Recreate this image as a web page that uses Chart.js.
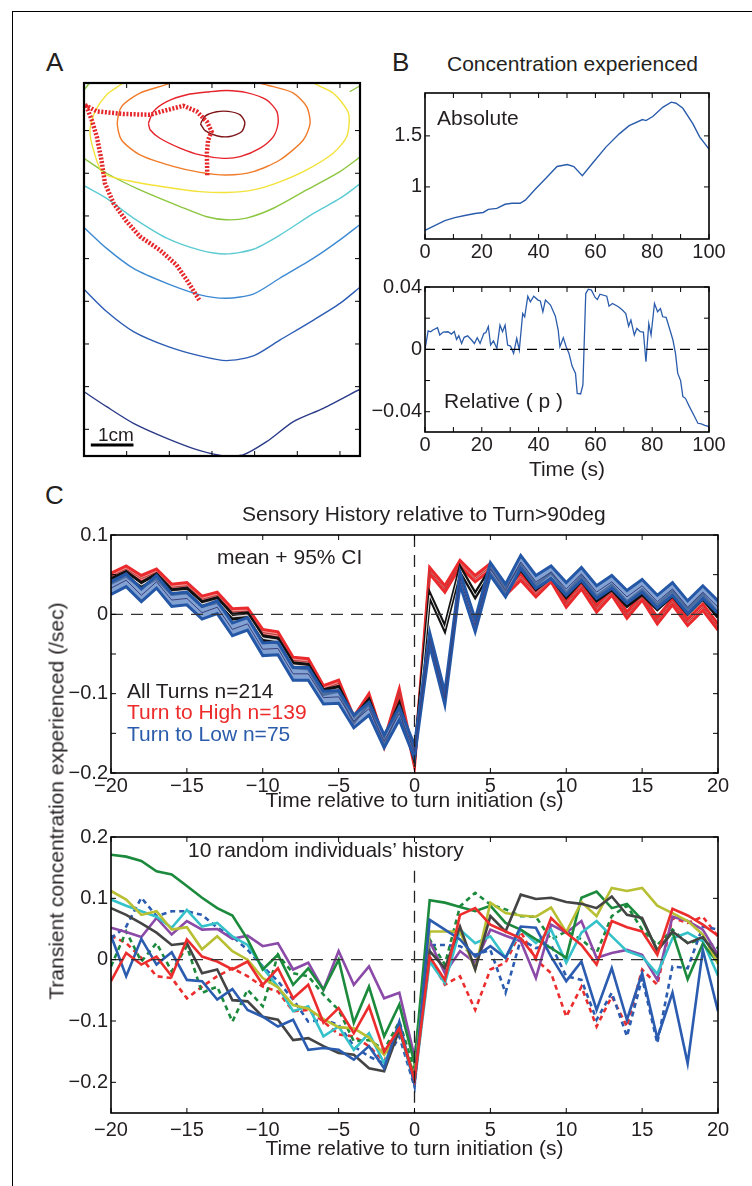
<!DOCTYPE html>
<html>
<head>
<meta charset="utf-8">
<title>Concentration experienced and sensory history</title>
<script src="https://cdn.jsdelivr.net/npm/chart.js@4.4.1/dist/chart.umd.min.js"></script>
<style>
  body { margin: 0; width: 752px; height: 1186px; position: relative; overflow: hidden; background: #fff;
         font-family: "Liberation Sans", Arial, sans-serif; color: #231f20; }
  #frame { position: absolute; left: 12px; top: 11px; width: 800px; height: 1250px;
           border-left: 1px solid #000; border-top: 1px solid #000; }
  canvas { position: absolute; }
  .txt { position: absolute; white-space: nowrap; font-size: 21px; line-height: 21px; z-index: 2; }
  .letter { font-size: 26px; line-height: 26px; }
</style>
</head>
<body>
<div id="frame"></div>
<canvas id="mapChart"></canvas>
<canvas id="absChart"></canvas>
<canvas id="relChart"></canvas>
<canvas id="meanChart"></canvas>
<canvas id="indivChart"></canvas>

<div class="txt letter" style="left:46px;top:49px">A</div>
<div class="txt letter" style="left:392px;top:49px">B</div>
<div class="txt letter" style="left:45px;top:482px">C</div>
<div class="txt" style="left:447px;top:53px">Concentration experienced</div>
<div class="txt" style="left:437px;top:107px">Absolute</div>
<div class="txt" style="left:444px;top:390px">Relative ( p )</div>
<div class="txt" style="left:98px;top:425px;font-size:19px;line-height:19px">1cm</div>
<div class="txt" style="left:242px;top:503px">Sensory History relative to Turn&gt;90deg</div>
<div class="txt" style="left:217px;top:546px">mean + 95% CI</div>
<div class="txt" style="left:127px;top:680px;color:#231f20">All Turns n=214</div>
<div class="txt" style="left:127px;top:701px;color:#ec2a2a">Turn to High n=139</div>
<div class="txt" style="left:127px;top:723px;color:#2a5cab">Turn to Low n=75</div>
<div class="txt" style="left:188px;top:839px">10 random individuals’ history</div>
<div class="txt" style="left:56px;top:801px;transform:translate(-50%,-50%) rotate(-90deg)">Transient concentration experienced (/sec)</div>

<script>
// ---- panel A: contour levels (cm) and the worm track ----
var levelDarkRed = [[2.73,7.16],[2.84,7.34],[3.11,7.44],[3.38,7.45],[3.66,7.37],[3.77,7.19],[3.70,6.98],[3.42,6.86],[3.11,6.88],[2.84,7.00],[2.73,7.16]];
var levelRed = [[1.51,7.17],[1.63,7.45],[1.94,7.68],[2.41,7.84],[2.95,7.91],[3.34,7.94],[3.81,7.89],[4.28,7.72],[4.52,7.45],[4.55,7.17],[4.44,6.86],[4.13,6.59],[3.66,6.39],[3.27,6.35],[2.72,6.43],[2.25,6.59],[1.78,6.82],[1.55,7.02],[1.51,7.17]];
var levelOrange = [[2.25,8.27],[2.02,8.11],[1.31,7.88],[0.88,7.56],[0.78,7.17],[0.88,6.78],[1.31,6.43],[2.09,6.16],[2.72,6.02],[3.34,5.96],[3.97,6.04],[4.59,6.31],[5.14,6.78],[5.30,7.17],[5.22,7.56],[4.91,7.88],[4.44,8.03],[4.13,8.11],[3.89,8.27]];
var levelYellow = [[1.08,8.27],[0.88,8.09],[0.53,7.84],[0.26,7.45],[0.14,7.02],[0.22,6.55],[0.45,6.00],[1.16,5.80],[2.09,5.65],[2.72,5.57],[3.34,5.55],[3.97,5.61],[4.59,5.80],[5.22,6.08],[5.84,6.47],[6.16,6.86],[6.20,7.41],[5.84,7.88],[5.38,8.11],[5.14,8.27]];
var levelGreen = [[0,6.35],[0.53,6.00],[1.31,5.61],[2.25,5.22],[2.88,4.98],[3.34,4.91],[3.81,4.95],[4.44,5.18],[5.22,5.61],[6.00,6.04],[6.47,6.38]];
var levelGreenCornerLeft = [[0,7.95],[0.14,8.13]];
var levelGreenCornerRight = [[6.23,7.91],[6.47,8.05]];
var levelCyan = [[0,5.71],[0.53,5.41],[1.16,4.95],[1.94,4.48],[2.72,4.20],[3.34,4.11],[3.97,4.22],[4.59,4.55],[5.38,5.06],[6.00,5.41],[6.47,5.75]];
var levelBlue = [[0,4.73],[0.53,4.24],[1.16,3.77],[1.94,3.42],[2.72,3.15],[3.34,3.07],[3.97,3.17],[4.59,3.54],[5.38,4.01],[6.00,4.44],[6.47,4.80]];
var levelDeepBlue = [[0,3.28],[0.53,2.76],[1.16,2.29],[1.94,1.95],[2.72,1.72],[3.34,1.61],[3.97,1.72],[4.59,2.09],[5.38,2.56],[6.00,2.95],[6.47,3.33]];
var levelNavy = [[0,0.88],[0.53,0.53],[1.16,0.14],[1.94,-0.21],[2.72,-0.50],[3.34,-0.63],[3.73,-0.60],[4.28,-0.29],[4.91,0.18],[5.61,0.49],[6.47,0.94]];
var wormTrack = [[2.70,3.03],[2.41,3.50],[2.17,3.85],[1.78,4.20],[1.31,4.52],[1.00,4.87],[0.69,5.30],[0.49,5.77],[0.41,6.31],[0.30,6.86],[0.18,7.25],[0.06,7.56],[0.02,7.60],[0.30,7.45],[0.92,7.39],[1.55,7.37],[1.94,7.48],[2.33,7.58],[2.64,7.45],[2.88,7.21],[2.99,6.98],[2.91,6.78],[2.88,6.47],[2.89,5.94]];
var scaleBar = [[0.16,-0.37],[1.16,-0.37]];
var mapTicksX = [1, 2, 3, 4, 5, 6];
var mapTicksY = [0, 1, 2, 3, 4, 5, 6, 7];

// ---- panel B: concentration along the track ----
var absTime = [0,3.4,7,10.5,14,17.6,20.5,22.3,25.3,28.2,30.6,33.5,35.3,38.9,42.4,46.5,50.1,52.4,55.4,58.9,63.7,68.4,71.9,76.6,77.8,80.2,83.7,86.7,88.4,90.8,94.3,96.7,100];
var absValue = [0.575,0.62,0.67,0.70,0.72,0.74,0.75,0.78,0.79,0.83,0.84,0.84,0.87,0.98,1.08,1.20,1.22,1.20,1.11,1.23,1.39,1.52,1.60,1.66,1.65,1.69,1.78,1.83,1.82,1.77,1.62,1.49,1.37];
var relTime = [0,1.1,2.0,2.8,4.4,5.2,6.4,8.1,9.3,10.3,11.1,11.9,12.9,13.8,15.0,16.4,17.4,18.4,19.4,20.7,21.4,22.3,23.1,24.1,25.3,26.4,27.3,28.2,29.1,30.1,31.2,32.3,33.2,34.4,35.1,36.2,37.1,38.3,39.8,40.6,41.5,42.4,44.2,45.9,46.9,47.5,48.7,49.7,50.7,51.8,53.0,53.6,54.8,55.6,56.6,57.5,58.6,59.9,60.7,61.6,64.0,64.8,66.0,68.1,69.5,70.7,71.7,72.5,73.7,74.6,75.8,76.9,77.8,78.8,79.6,80.8,81.9,82.9,83.7,84.9,86.1,87.3,88.2,89.0,90.0,90.8,91.7,93.1,94.9,96.1,97.3,98.5,100];
var relValue = [0,0.0119,0.0113,0.0124,0.0139,0.0092,0.0111,0.0113,0.0098,0.0115,0.0064,0.0087,0.0038,0.0077,0.0087,0.006,0.0038,0.0075,0.0038,0.0102,0.0107,0.0147,0.0028,0.0055,0.0006,0.0156,0.0113,0.0156,0.0028,0.0021,-0.0026,0.007,-0.0004,0.023,0.0209,0.0341,0.0305,0.0341,0.0316,0.0311,0.0241,0.0316,0.0284,0.0213,0.0124,0.0017,0.0075,0.0017,-0.0026,-0.0107,-0.0154,-0.0282,-0.0286,-0.0228,0.0358,0.0386,0.038,0.0333,0.032,0.0354,0.0341,0.0277,0.0294,0.0273,0.0252,0.023,0.0149,0.0188,0.0092,0.0134,0.0113,0.0111,-0.0079,0.0166,0.0092,0.0294,0.0241,0.0262,0.0209,0.0205,0.0134,0.006,-0.0026,-0.0154,-0.02,-0.0303,-0.0314,-0.0367,-0.0431,-0.0474,-0.0478,-0.0488,-0.0495];
var timeTicksB = [0, 10, 20, 30, 40, 50, 60, 70, 80, 90, 100];
var timeLabelsB = [0, 20, 40, 60, 80, 100];

// ---- panel C: mean sensory history around turns ----
var turnTime = [-20,-19,-18,-17,-16,-15,-14,-13,-12,-11,-10,-9,-8,-7,-6,-5,-4,-3,-2,-1,0,1,2,3,4,5,6,7,8,9,10,11,12,13,14,15,16,17,18,19,20];
var allMean = [0.042,0.051,0.037,0.048,0.028,0.030,0.013,0.018,-0.003,-0.001,-0.030,-0.033,-0.064,-0.066,-0.098,-0.094,-0.133,-0.110,-0.160,-0.115,-0.181,0.024,-0.018,0.057,0.024,0.055,0.030,0.059,0.034,0.049,0.024,0.045,0.020,0.034,0.013,0.028,0.009,0.026,0.003,0.022,-0.001];
var highMean = [0.048,0.057,0.045,0.053,0.034,0.036,0.019,0.024,0.003,0.004,-0.023,-0.026,-0.058,-0.060,-0.094,-0.087,-0.133,-0.104,-0.163,-0.098,-0.188,0.055,0.032,0.064,0.045,0.060,0.028,0.047,0.026,0.045,0.013,0.036,0.007,0.028,-0.001,0.022,-0.008,0.016,-0.010,0.009,-0.016];
var lowMean = [0.033,0.043,0.024,0.041,0.018,0.020,0.002,0.009,-0.019,-0.012,-0.044,-0.043,-0.075,-0.075,-0.105,-0.104,-0.135,-0.119,-0.160,-0.125,-0.173,-0.031,-0.106,0.045,-0.014,0.057,0.030,0.066,0.041,0.053,0.032,0.051,0.028,0.041,0.022,0.036,0.016,0.032,0.009,0.028,0.009];
var allCI = 0.003;
var highCI = 0.004;
var lowCI = 0.008;

// ---- panel C: ten individual histories ----
var greenSolid = [0.171,0.168,0.161,0.144,0.139,0.120,0.101,0.084,0.072,0.033,-0.016,0.008,-0.041,-0.014,-0.049,0.000,-0.103,-0.044,-0.125,-0.073,-0.169,0.097,0.093,0.086,0.079,0.088,0.060,0.049,0.033,0.019,0.003,0.101,0.111,0.084,0.091,0.065,0.016,0.045,-0.032,0.026,-0.005];
var oliveSolid = [0.112,0.098,0.073,0.079,0.049,0.053,0.017,0.038,0.014,0.000,-0.030,-0.045,-0.074,-0.080,-0.097,-0.110,-0.112,-0.127,-0.155,-0.114,-0.190,0.046,0.046,0.046,-0.016,0.093,0.076,0.072,0.070,0.085,0.045,0.094,0.071,0.117,0.112,0.117,0.088,0.076,0.063,0.041,-0.007];
var cyanSolid = [0.098,0.088,0.079,0.070,0.052,0.081,0.054,0.060,0.038,0.024,-0.013,-0.044,-0.084,-0.076,-0.125,-0.109,-0.147,-0.120,-0.169,-0.114,-0.201,-0.003,-0.038,0.049,0.027,0.038,0.003,0.049,0.027,0.049,-0.005,0.044,0.063,0.038,0.014,0.005,-0.023,0.035,0.044,0.030,-0.026];
var graySolid = [0.084,0.073,0.059,0.044,0.024,0.027,-0.022,-0.016,-0.066,-0.068,-0.093,-0.098,-0.131,-0.128,-0.141,-0.152,-0.155,-0.177,-0.182,-0.114,-0.193,0.014,-0.014,0.054,-0.016,0.071,0.046,0.106,0.099,0.101,0.094,0.091,0.084,0.103,0.073,0.068,0.014,0.046,0.027,0.037,0.003];
var purpleSolid = [0.052,0.045,0.037,0.068,0.041,0.063,0.049,0.050,0.034,0.039,0.022,0.027,-0.016,-0.005,-0.049,0.014,-0.041,-0.011,-0.063,-0.054,-0.158,0.030,-0.022,0.014,-0.005,0.049,0.039,0.030,-0.030,0.057,0.044,0.063,0.003,0.011,0.016,0.008,-0.033,0.070,0.063,0.049,0.008];
var redSolid = [-0.035,0.011,-0.008,0.005,-0.027,0.033,0.005,-0.003,-0.016,-0.003,-0.041,-0.014,-0.063,-0.041,-0.103,-0.079,-0.120,-0.076,-0.150,-0.112,-0.196,0.005,-0.033,0.073,0.084,0.057,0.046,0.035,0.003,0.068,0.044,0.024,-0.008,0.063,0.053,0.046,0.008,0.083,0.072,0.057,0.039];
var blueSolid = [0.039,-0.027,0.034,-0.008,0.012,-0.033,-0.035,-0.065,-0.048,-0.082,-0.093,-0.109,-0.098,-0.147,-0.144,-0.147,-0.163,-0.141,-0.177,-0.101,-0.204,0.065,0.049,0.033,0.005,0.022,0.003,0.054,0.052,0.005,-0.035,-0.003,-0.082,-0.014,-0.098,-0.022,-0.128,-0.054,-0.169,0.016,-0.084];
var blueDotted = [0.035,0.054,0.101,0.071,0.079,0.079,0.073,0.052,0.038,0.016,-0.011,-0.035,-0.065,-0.101,-0.098,-0.106,-0.141,-0.158,-0.169,-0.125,-0.207,0.024,0.024,0.022,0.008,0.016,-0.054,0.033,0.019,0.024,-0.027,-0.033,-0.098,-0.054,-0.125,-0.030,-0.136,-0.011,-0.014,0.054,0.049];
var greenDotted = [-0.011,0.046,-0.003,0.027,-0.019,0.022,-0.054,-0.044,-0.101,-0.049,-0.076,0.008,-0.022,-0.027,-0.057,-0.082,-0.133,-0.131,-0.147,-0.101,-0.180,0.033,-0.008,0.087,0.109,0.090,0.082,0.071,0.070,0.033,0.046,0.033,0.011,0.071,0.088,0.049,0.024,0.049,0.027,0.033,0.019];
var redDotted = [0.039,0.027,0.003,-0.027,-0.030,-0.063,-0.044,-0.027,-0.014,-0.027,-0.044,-0.052,-0.084,-0.082,-0.101,-0.122,-0.125,-0.141,-0.166,-0.109,-0.201,0.003,-0.041,-0.027,-0.082,-0.016,-0.005,0.046,0.000,-0.022,-0.093,-0.044,-0.109,-0.060,-0.109,-0.016,-0.041,0.068,0.060,0.070,0.038];
var turnTicks = [-20, -15, -10, -5, 0, 5, 10, 15, 20];

Chart.defaults.font.family = '"Liberation Sans", Arial, sans-serif';
Chart.defaults.font.size = 20;
Chart.defaults.color = '#231f20';
Chart.defaults.animation = false;
Chart.defaults.plugins.legend.display = false;
Chart.defaults.plugins.tooltip.enabled = false;

var DASH = [12, 8];

var minus = function minus(v) { return String(v).replace('-', '\u2212'); };

// box round the plot area plus inward ticks on all four sides, matlab style
var boxTicks = {
  id: 'boxTicks',
  afterDatasetsDraw: function(chart, args, opts) {
    var ctx = chart.ctx, a = chart.chartArea, sx = chart.scales.x, sy = chart.scales.y;
    var len = opts.len || 5;
    ctx.save();
    ctx.strokeStyle = '#000';
    ctx.lineWidth = 1;
    ctx.beginPath();
    sx.ticks.forEach(function(t) {
      var px = sx.getPixelForValue(t.value);
      ctx.moveTo(px, a.bottom); ctx.lineTo(px, a.bottom - len);
      ctx.moveTo(px, a.top); ctx.lineTo(px, a.top + len);
    });
    sy.ticks.forEach(function(t) {
      var py = sy.getPixelForValue(t.value);
      ctx.moveTo(a.left, py); ctx.lineTo(a.left + len, py);
      ctx.moveTo(a.right, py); ctx.lineTo(a.right - len, py);
    });
    ctx.stroke();
    ctx.lineWidth = opts.frame || 1.6;
    ctx.strokeRect(a.left, a.top, a.right - a.left, a.bottom - a.top);
    ctx.restore();
  }
};

var scaleFor = function scaleFor(dir, min, max, tickValues, labelValues, size, title, labelPad) {
  return {
    type: 'linear',
    position: dir === 'x' ? 'bottom' : 'left',
    min: min,
    max: max,
    grid: { display: false, drawTicks: false },
    border: { display: false },
    title: title ? { display: true, text: title, padding: 0, font: { size: 21 } } : { display: false },
    ticks: {
      display: labelValues.length > 0,
      padding: labelPad,
      autoSkip: false,
      maxRotation: 0,
      minRotation: 0,
      callback: function(value) { return labelValues.indexOf(value) >= 0 ? minus(value) : ''; }
    },
    afterBuildTicks: function(scale) {
      scale.ticks = tickValues.map(function(v) { return { value: v }; });
    },
    afterFit: function(scale) {
      if (dir === 'x') { scale.height = size; } else { scale.width = size; }
      scale.paddingLeft = 0; scale.paddingRight = 0; scale.paddingTop = 0; scale.paddingBottom = 0;
    }
  };
};

var series = function series(xs, ys, color, width, dash) {
  return {
    data: xs.map(function(x, i) { return { x: x, y: ys[i] }; }),
    borderColor: color, borderWidth: width, borderDash: dash || [],
    showLine: true, pointRadius: 0, fill: false, tension: 0
  };
};

var path = function path(points, color, width, dash) {
  return {
    data: points.map(function(p) { return { x: p[0], y: p[1] }; }),
    borderColor: color, borderWidth: width, borderDash: dash || [],
    showLine: true, pointRadius: 0, fill: false, tension: 0.25
  };
};

var place = function place(id, box) {
  var c = document.getElementById(id);
  var left = box.L - box.wy - box.pl, top = box.T - box.pt;
  c.style.left = left + 'px';
  c.style.top = top + 'px';
  c.width = box.R + box.pr - left;
  c.height = box.B + box.hx + box.pb - top;
  return c;
};

var build = function build(id, box, datasets, xScale, yScale) {
  return new Chart(place(id, box), {
    type: 'scatter',
    data: { datasets: datasets },
    options: {
      responsive: false,
      layout: { padding: { left: box.pl, top: box.pt, right: box.pr, bottom: box.pb } },
      elements: { point: { radius: 0 }, line: { borderCapStyle: 'butt' } },
      scales: { x: xScale, y: yScale },
      plugins: { boxTicks: { frame: box.frame } }
    },
    plugins: [boxTicks]
  });
};

// panel A
var track = path(wormTrack, '#e5262b', 4.5, [2, 1.6]);
track.tension = 0;
var bar = path(scaleBar, '#000', 3);
bar.tension = 0;
build('mapChart', { L: 84, T: 83, R: 360, B: 456, wy: 0, hx: 0, pl: 3, pt: 3, pr: 3, pb: 3, frame: 2.2 }, [
  bar,
  track,
  path(levelDarkRed, '#7d1418', 1.4),
  path(levelRed, '#e5232b', 1.4),
  path(levelOrange, '#f07c2a', 1.4),
  path(levelYellow, '#f3e23a', 1.4),
  path(levelGreen, '#8cc640', 1.4),
  path(levelGreenCornerLeft, '#8cc640', 1.4),
  path(levelGreenCornerRight, '#8cc640', 1.4),
  path(levelCyan, '#5ccbd2', 1.4),
  path(levelBlue, '#3d8ad3', 1.4),
  path(levelDeepBlue, '#2c5cb3', 1.4),
  path(levelNavy, '#2a3a88', 1.4)
], scaleFor('x', 0, 6.47, mapTicksX, [], 0), scaleFor('y', -0.625, 8.115, mapTicksY, [], 0));

// panel B, absolute
build('absChart', { L: 425, T: 93, R: 709, B: 239, wy: 45, hx: 30, pl: 0, pt: 6, pr: 22, pb: 0 }, [
  series(absTime, absValue, '#2a5cab', 1.4)
], scaleFor('x', 0, 100, timeTicksB, timeLabelsB, 30, null, 1),
   scaleFor('y', 0.49, 1.92, [1, 1.5], [1, 1.5], 45, null, 3));

// panel B, relative (first dataset is drawn on top)
build('relChart', { L: 425, T: 287, R: 709, B: 432, wy: 55, hx: 51, pl: 0, pt: 12, pr: 22, pb: 0 }, [
  series([0, 100], [0, 0], '#000', 1.3, [10, 7]),
  series(relTime, relValue, '#2a5cab', 1.3)
], scaleFor('x', 0, 100, timeTicksB, timeLabelsB, 51, 'Time (s)', 1),
   scaleFor('y', -0.053, 0.04, [-0.04, -0.02, 0, 0.02, 0.04], [-0.04, 0, 0.04], 55, null, 3));

// panel C, mean + CI bands
var band = function band(mean, ci, edge, fillColor, meanColor) {
  var upper = series(turnTime, mean.map(function(v) { return v + ci; }), edge, 3);
  var lower = series(turnTime, mean.map(function(v) { return v - ci; }), edge, 3);
  lower.fill = '-1';
  lower.backgroundColor = fillColor;
  return [series(turnTime, mean, meanColor, 1), upper, lower];
};
build('meanChart', { L: 111, T: 535, R: 718, B: 773, wy: 45, hx: 41, pl: 0, pt: 12, pr: 22, pb: 0 },
  [
    series([-20, 20], [0, 0], '#333', 1.3, DASH),
    series([0, 0], [0.1, -0.2], '#222', 1.3, DASH)
  ].concat(band(lowMean, lowCI, '#2557a7', 'rgba(96,136,200,0.78)', '#3a3f7a'))
   .concat(band(allMean, allCI, '#111111', 'rgba(150,150,150,0.85)', '#dddddd'))
   .concat(band(highMean, highCI, '#ea2a2d', 'rgba(238,120,120,0.8)', '#b83a3a')),
  scaleFor('x', -20, 20, turnTicks, turnTicks, 41, 'Time relative to turn initiation (s)', 1),
  scaleFor('y', -0.2, 0.1, [-0.2, -0.15, -0.1, -0.05, 0, 0.05, 0.1], [-0.2, -0.1, 0, 0.1], 45, null, 3));

// panel C, individuals
build('indivChart', { L: 111, T: 837, R: 718, B: 1113, wy: 45, hx: 49, pl: 0, pt: 12, pr: 22, pb: 0 }, [
  series([-20, 20], [0, 0], '#333', 1.3, DASH),
  series([0, 0], [0.145, -0.25], '#222', 1.3, DASH),
  series(turnTime, redSolid, '#ec2d2d', 2.6),
  series(turnTime, blueSolid, '#2b5cb0', 2.6),
  series(turnTime, graySolid, '#444444', 2.6),
  series(turnTime, oliveSolid, '#b8bf33', 2.6),
  series(turnTime, greenSolid, '#1b8a3c', 2.6),
  series(turnTime, cyanSolid, '#35c1c9', 2.6),
  series(turnTime, purpleSolid, '#8b4aa8', 2.6),
  series(turnTime, blueDotted, '#2b5cb0', 2.6, [5, 4]),
  series(turnTime, greenDotted, '#1b8a3c', 2.6, [5, 4]),
  series(turnTime, redDotted, '#ec2d2d', 2.6, [5, 4])
], scaleFor('x', -20, 20, turnTicks, turnTicks, 49, 'Time relative to turn initiation (s)', 5),
   scaleFor('y', -0.25, 0.2, [-0.2, -0.1, 0, 0.1, 0.2], [-0.2, -0.1, 0, 0.1, 0.2], 45, null, 3));
</script>
</body>
</html>
